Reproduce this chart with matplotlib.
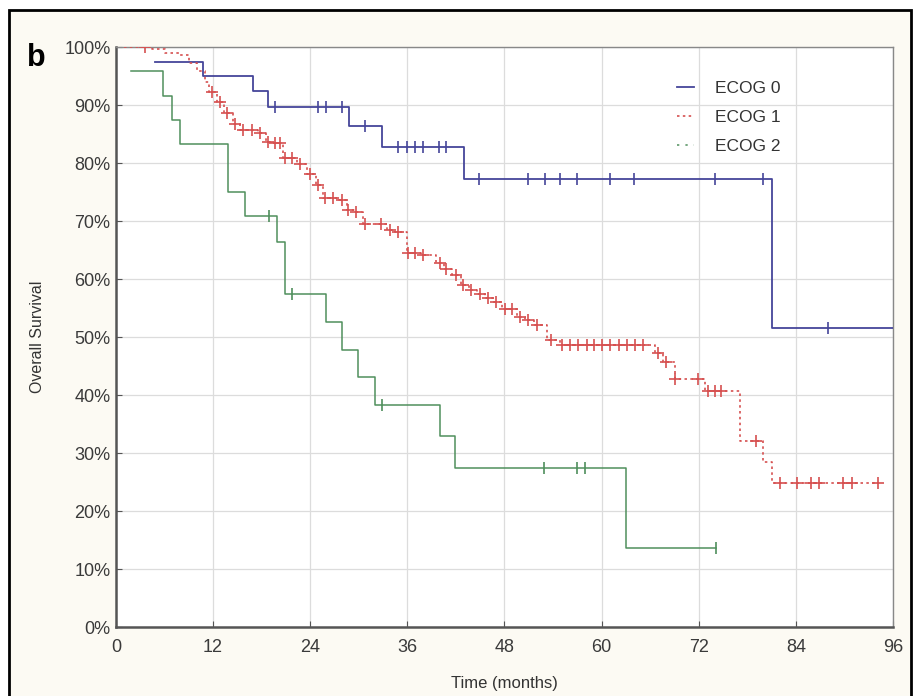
import numpy as np
import matplotlib
matplotlib.use('Agg')
import matplotlib.pyplot as plt
from matplotlib.lines import Line2D
from matplotlib.patches import Rectangle

plt.rcParams['font.family'] = ['Liberation Sans', 'DejaVu Sans']

# ECOG 0 (синяя)
t_ecog0 = [4.8, 10.7, 16.9, 18.8, 28.8, 32.9, 43.0, 81.0, 96.0]
s_ecog0 = [97.5, 95.0, 92.4, 89.7, 86.4, 82.8, 77.3, 51.6, 51.6]
c_ecog0 = [19.7, 24.9, 25.9, 27.9, 30.8, 34.9, 35.9, 36.9, 37.9, 39.9, 40.8,
           44.9, 50.9, 53.0, 54.9, 56.9, 61.0, 64.0, 74.0, 80.0, 88.0]

# ECOG 1 (красная)
t_ecog1 = [1.0, 4.5, 6.0, 7.9, 9.0, 10.0, 11.0, 11.5, 12.5, 13.4, 14.4, 15.3,
           17.5, 18.5, 19.3, 20.6, 22.4, 23.6, 24.7, 25.6, 27.6, 28.5, 29.5,
           30.5, 33.5, 34.5, 35.9, 37.7, 39.5, 40.5, 41.5, 42.6, 43.6, 44.6,
           45.6, 46.6, 47.7, 49.5, 50.5, 51.6, 53.2, 54.8, 66.6, 67.6, 69.06,
           72.8, 77.1, 80.0, 81.0, 94.2]
s_ecog1 = [100, 99.7, 99.0, 98.6, 97.2, 95.8, 94.0, 92.3, 90.6, 88.7, 86.8, 85.7,
           85.1, 83.7, 83.4, 80.8, 79.9, 78.1, 76.2, 73.9, 73.6, 71.9, 71.5,
           69.5, 68.4, 68.1, 64.4, 64.1, 62.7, 61.8, 60.7, 59.0, 58.1, 57.5,
           56.7, 56.1, 54.9, 53.5, 52.9, 52.1, 49.5, 48.6, 47.2, 45.7, 42.8,
           40.7, 32.0, 28.5, 24.8, 24.8]
c_ecog1 = [3.6, 11.8, 12.85, 13.7, 14.7, 15.7, 16.75, 17.8, 18.8, 19.6, 20.3,
           20.9, 21.7, 22.7, 24.0, 25.0, 25.8, 26.8, 27.9, 28.7, 29.7, 30.8,
           32.8, 33.8, 34.8, 36.1, 36.9, 37.95, 40.0, 40.8, 42.0, 42.9, 43.9,
           45.0, 46.0, 47.0, 48.1, 48.9, 49.9, 50.9, 52.0, 53.8, 55.05, 56.1,
           57.1, 58.2, 59.0, 60.0, 61.0, 62.1, 63.1, 64.1, 65.1, 67.0, 68.0,
           69.1, 71.9, 73.2, 74.0, 74.8, 79.1, 82.0, 84.1, 85.9, 86.8, 89.8,
           90.9, 94.2]

# ECOG 2 (зелёная)
t_ecog2 = [1.9, 5.8, 6.9, 7.9, 13.8, 15.9, 19.85, 20.9, 25.9, 27.95, 29.9,
           32.0, 40.0, 41.9, 63.0, 74.1]
s_ecog2 = [95.9, 91.5, 87.4, 83.2, 75.0, 70.8, 66.4, 57.5, 52.6, 47.8, 43.1,
           38.3, 32.9, 27.4, 13.7, 13.7]
c_ecog2 = [18.9, 21.8, 32.9, 52.9, 56.9, 57.9, 74.1]

labels = ['ECOG 0', 'ECOG 1', 'ECOG 2']
x_ticks = [0, 12, 24, 36, 48, 60, 72, 84, 96]
y_ticks = [0, 10, 20, 30, 40, 50, 60, 70, 80, 90, 100]

col0 = '#45459a'
col1 = '#d65050'
col2 = '#4f8f5c'


def censor_levels(t, s, c):
    # значение ступенчатой функции в моменты цензурирования
    idx = np.searchsorted(t, c, side='right') - 1
    return np.array(s)[idx]


fig = plt.figure(figsize=(9.2, 6.96), dpi=100, facecolor='white')
fig.patches.append(Rectangle((9 / 920, -0.02), 902 / 920, 1.02 - 10 / 696,
                             transform=fig.transFigure, facecolor='#fcfaf3',
                             edgecolor='black', linewidth=2, zorder=-10))

ax = fig.add_axes([116 / 920, 69 / 696, 777 / 920, 580 / 696])
ax.set_facecolor('white')

ax.plot(t_ecog0, s_ecog0, drawstyle='steps-post', color=col0, lw=1.3, zorder=3)
ax.plot(c_ecog0, censor_levels(t_ecog0, s_ecog0, c_ecog0), ls='none',
        marker='|', ms=8, mew=1.2, color=col0, zorder=4)

ax.plot(t_ecog1, s_ecog1, drawstyle='steps-post', color=col1, lw=1.2,
        ls=(0, (1.5, 2.0)), zorder=3)
ax.plot(c_ecog1, censor_levels(t_ecog1, s_ecog1, c_ecog1), ls='none',
        marker='+', ms=8, mew=1.2, color=col1, zorder=4)

ax.plot(t_ecog2, s_ecog2, drawstyle='steps-post', color=col2, lw=1.1, zorder=3)
ax.plot(c_ecog2, censor_levels(t_ecog2, s_ecog2, c_ecog2), ls='none',
        marker='|', ms=8, mew=1.2, color=col2, zorder=4)

ax.set_xlim(0, 96)
ax.set_ylim(0, 100)
ax.set_xticks(x_ticks)
ax.set_xticklabels([str(v) for v in x_ticks])
ax.set_yticks(y_ticks)
ax.set_yticklabels([f'{v}%' for v in y_ticks])
ax.grid(True, color='#dcdcdc', lw=0.9)
ax.set_axisbelow(True)
ax.tick_params(direction='in', length=4, labelsize=13, labelcolor='#3a3a3a',
               color='#555555')
ax.tick_params(axis='x', pad=9)
ax.tick_params(axis='y', pad=4)

for side in ['left', 'bottom']:
    ax.spines[side].set_color('#555555')
    ax.spines[side].set_linewidth(1.8)
for side in ['top', 'right']:
    ax.spines[side].set_color('#888888')
    ax.spines[side].set_linewidth(1.0)

ax.set_xlabel('Time (months)', fontsize=12, color='#333333', labelpad=14)
ax.set_ylabel('Overall Survival', fontsize=11.5, color='#333333', labelpad=14)

handles = [Line2D([], [], color=col0, lw=1.3),
           Line2D([], [], color=col1, lw=1.2, ls=(0, (1.5, 2.0))),
           Line2D([], [], color=col2, lw=1.1, ls=(0, (1.5, 4.0)))]
ax.legend(handles, labels, loc='upper left', bbox_to_anchor=(0.702, 0.968),
          frameon=False, fontsize=12.5, handlelength=1.0, handletextpad=1.2,
          labelspacing=0.78, labelcolor='#333333')

fig.text(36 / 920, 1 - 58 / 696, 'b', fontsize=22, fontweight='bold',
         ha='center', va='center', color='black')

plt.savefig('out.png', dpi=100, facecolor=fig.get_facecolor())
